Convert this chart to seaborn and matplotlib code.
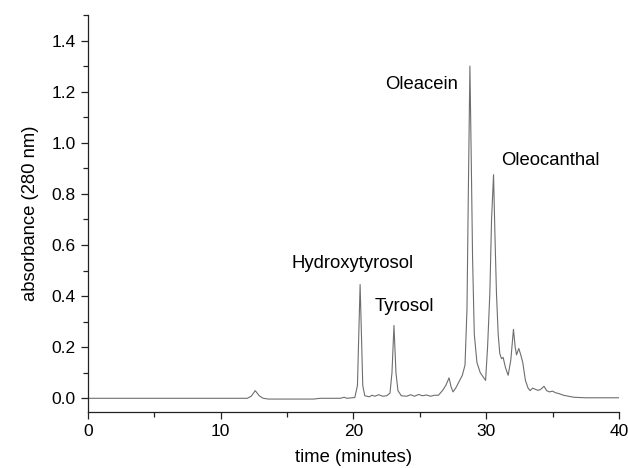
import matplotlib
matplotlib.use("Agg")
import matplotlib.pyplot as plt
import seaborn as sns
import pandas as pd
from matplotlib.ticker import MultipleLocator

# chromatogram trace
time_min = [0.0, 12.0, 12.3, 12.6, 12.9, 13.2, 13.6, 17.0, 17.5, 19.0, 19.3, 19.5,
            20.1, 20.3, 20.4, 20.5, 20.6, 20.7, 20.85, 21.2, 21.4, 21.6, 21.9, 22.2,
            22.5, 22.75, 22.9, 23.05, 23.2, 23.35, 23.6, 24.0, 24.3, 24.6, 24.9, 25.2,
            25.5, 25.8, 26.1, 26.4, 26.7, 26.95, 27.2, 27.35, 27.5, 27.7, 28.0, 28.2,
            28.4, 28.55, 28.65, 28.77, 28.88, 28.97, 29.1, 29.3, 29.55, 29.75, 29.95,
            30.1, 30.27, 30.4, 30.55, 30.65, 30.77, 30.9, 31.02, 31.15, 31.27, 31.45,
            31.65, 31.85, 32.05, 32.18, 32.28, 32.45, 32.6, 32.75, 32.95, 33.15, 33.3,
            33.5, 33.7, 33.9, 34.1, 34.35, 34.55, 34.75, 35.0, 35.2, 35.5, 35.8, 36.2,
            36.6, 37.5, 40.0]
absorbance = [0.0, 0.0, 0.008, 0.03, 0.01, 0.0, -0.003, -0.003, 0.0, 0.0, 0.004, 0.0,
              0.003, 0.05, 0.25, 0.445, 0.25, 0.05, 0.01, 0.006, 0.012, 0.008, 0.014, 0.008,
              0.01, 0.02, 0.1, 0.285, 0.1, 0.03, 0.01, 0.008, 0.014, 0.008, 0.015, 0.01,
              0.013, 0.008, 0.012, 0.012, 0.03, 0.05, 0.08, 0.045, 0.025, 0.04, 0.07, 0.09,
              0.13, 0.35, 0.80, 1.30, 0.90, 0.55, 0.25, 0.14, 0.10, 0.085, 0.07,
              0.2, 0.41, 0.70, 0.875, 0.65, 0.41, 0.25, 0.175, 0.155, 0.16, 0.12,
              0.09, 0.15, 0.27, 0.2, 0.17, 0.195, 0.17, 0.14, 0.07, 0.04, 0.03,
              0.04, 0.035, 0.031, 0.035, 0.047, 0.03, 0.025, 0.028, 0.022, 0.018, 0.012, 0.008,
              0.004, 0.002, 0.002]

peak_names = ["Hydroxytyrosol", "Tyrosol", "Oleacein", "Oleocanthal"]
label_x = [15.3, 21.6, 22.35, 31.15]
label_y = [0.528, 0.36, 1.228, 0.93]

sns.set_style("ticks")
plt.rcParams["font.family"] = ["Liberation Sans", "DejaVu Sans"]
plt.rcParams["text.color"] = "black"
plt.rcParams["axes.labelcolor"] = "black"
plt.rcParams["xtick.labelcolor"] = "black"
plt.rcParams["ytick.labelcolor"] = "black"

fig = plt.figure(figsize=(6.28, 4.68), dpi=100)
ax = fig.add_axes([0.140, 0.120, 0.8457, 0.848])

df = pd.DataFrame({"time": time_min, "abs": absorbance})
sns.lineplot(data=df, x="time", y="abs", estimator=None, sort=False,
             color="#6e6e6e", linewidth=0.8, ax=ax)

for name, x, y in zip(peak_names, label_x, label_y):
    ax.text(x, y, name, fontsize=13.3, va="center", ha="left", color="black")

ax.set_xlim(0, 40)
ax.set_ylim(-0.053, 1.50)
ax.xaxis.set_major_locator(MultipleLocator(10))
ax.xaxis.set_minor_locator(MultipleLocator(5))
ax.yaxis.set_major_locator(MultipleLocator(0.2))
ax.yaxis.set_minor_locator(MultipleLocator(0.1))
ax.set_yticks([0.0, 0.2, 0.4, 0.6, 0.8, 1.0, 1.2, 1.4])
ax.set_yticklabels(["0.0", "0.2", "0.4", "0.6", "0.8", "1.0", "1.2", "1.4"])
ax.tick_params(which="major", direction="out", length=5, width=0.9, labelsize=12.5,
               color="#222222", labelcolor="black", pad=4)
ax.tick_params(which="minor", direction="out", length=3.5, width=0.9, color="#222222")
ax.set_xlabel("time (minutes)", fontsize=13.3, labelpad=7, color="black")
ax.set_ylabel("absorbance (280 nm)", fontsize=13.3, labelpad=9, color="black")
sns.despine(ax=ax)
for s in ["left", "bottom"]:
    ax.spines[s].set_color("#222222")
    ax.spines[s].set_linewidth(0.9)

fig.savefig("out.png", dpi=100, facecolor="white")
